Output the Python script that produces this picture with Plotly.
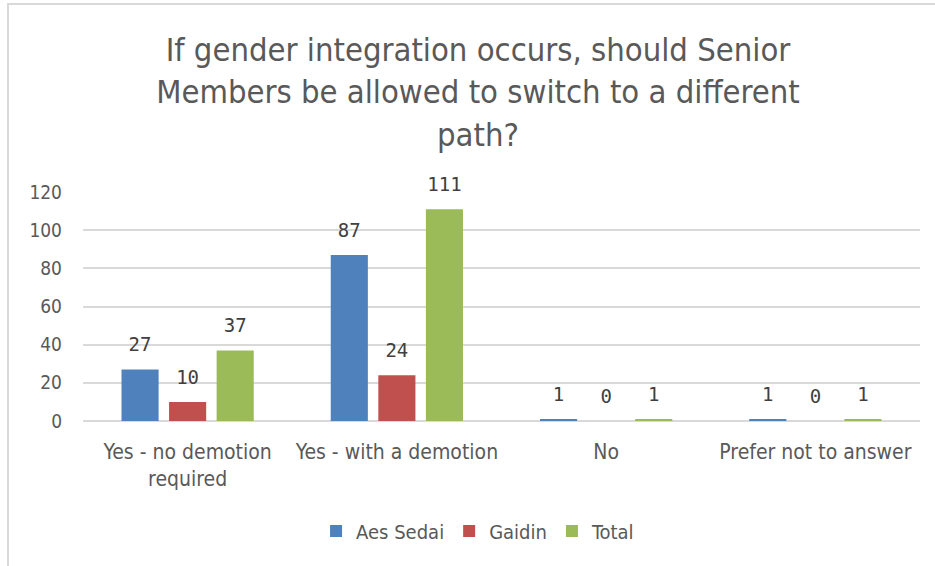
import plotly.graph_objects as go

categories = ["Yes - no demotion<br>required", "Yes - with a demotion", "No", "Prefer not to answer"]
series_names = ["Aes Sedai", "Gaidin", "Total"]
aes_sedai = [27, 87, 1, 1]
gaidin = [10, 24, 0, 0]
total = [37, 111, 1, 1]
colors = ["#4f81bd", "#c0504d", "#9bbb59"]
y_ticks = [0, 20, 40, 60, 80, 100, 120]

FONT = "Liberation Sans Narrow, DejaVu Sans Condensed, Arial Narrow, sans-serif"
LABEL_FONT = "DejaVu Sans Mono, monospace"
BARGAP = 0.318

fig = go.Figure()
for name, vals, col in zip(series_names, [aes_sedai, gaidin, total], colors):
    fig.add_trace(go.Bar(
        x=categories, y=vals, name=name, marker=dict(color=col, line=dict(width=0)),
        hoverinfo="x+y+name",
    ))
# data labels: grouped text-only scatter traces aligned with the bars
for name, vals in zip(series_names, [aes_sedai, gaidin, total]):
    fig.add_trace(go.Scatter(
        x=categories, y=vals, mode="markers+text", text=[str(v) for v in vals],
        textposition="top center", showlegend=False, hoverinfo="skip",
        marker=dict(size=20, opacity=0, color="white"),
        textfont=dict(family=LABEL_FONT, size=19, color="#404040"),
        cliponaxis=False,
    ))

L, R, T, B = 83, 15, 192, 145
W, H = 935, 566
pw, ph = W - L - R, H - T - B

fig.update_layout(
    width=W, height=H,
    margin=dict(l=L, r=R, t=T, b=B),
    paper_bgcolor="white", plot_bgcolor="white",
    barmode="group", bargap=BARGAP, bargroupgap=0.22,
    scattermode="group", scattergap=BARGAP,
    font=dict(family=FONT, color="#595959"),
    title=dict(
        text="If gender integration occurs, should Senior<br>Members be allowed to switch to a different<br>path?",
        x=478 / W, xanchor="center", xref="container", y=1 - 61 / H, yanchor="top",
        font=dict(family=FONT, size=32.5, color="#595959"),
    ),
    legend=dict(orientation="h", x=0.472, xanchor="center", y=-(531 - 421) / ph, yanchor="middle",
                font=dict(family=FONT, size=20, color="#595959"), itemwidth=30,
                traceorder="normal"),
    showlegend=True,
    xaxis=dict(showgrid=False, showline=False, ticks="", ticklabelstandoff=16,
               tickfont=dict(size=21, family=FONT, color="#595959")),
    yaxis=dict(range=[0, 120], tickvals=y_ticks, showgrid=True, gridcolor="#d9d9d9", gridwidth=1.5,
               zeroline=True, zerolinecolor="#d9d9d9", zerolinewidth=1.5, showline=False,
               ticks="", ticklabelstandoff=20,
               tickfont=dict(size=19, family=FONT, color="#595959")),
)

fig.add_shape(type="rect", xref="paper", yref="paper",
              x0=(8 - L) / pw, x1=(W + 10 - L) / pw,
              y0=-(H + 10 - (H - B)) / ph, y1=((H - B) - 4) / ph,
              line=dict(color="#d9d9d9", width=2), fillcolor="rgba(0,0,0,0)", layer="below")

fig.write_html("out.html", post_script="document.body.style.margin='0px';",
               config={"displayModeBar": False})
